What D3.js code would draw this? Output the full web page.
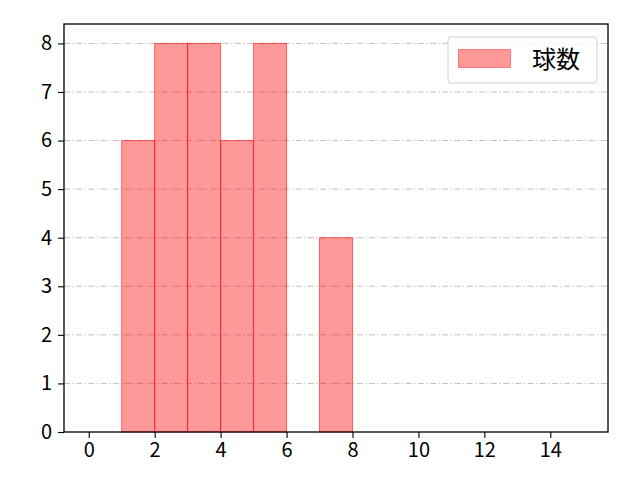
<!DOCTYPE html>
<html><head><meta charset="utf-8">
<script src="https://cdn.jsdelivr.net/npm/d3@7"></script>
<style>body{margin:0;background:#fff}svg{display:block}text{font-family:"Noto Sans CJK JP","DejaVu Sans",sans-serif}</style>
</head><body>
<svg id="c" width="640" height="480"></svg>
<script>
const binStarts = [1, 2, 3, 4, 5, 7];
const binEnds   = [2, 3, 4, 5, 6, 8];
const counts    = [6, 8, 8, 6, 8, 4];
const xTicks = [0, 2, 4, 6, 8, 10, 12, 14];
const yTicks = [0, 1, 2, 3, 4, 5, 6, 7, 8];
const legendLabel = "球数";

const svg = d3.select("#c");
const L = 64, R = 608, T = 24, B = 432;
const x = d3.scaleLinear().domain([-0.75, 15.75]).range([L, R]);
const y = d3.scaleLinear().domain([0, 8.4]).range([B, T]);

// grid
svg.append("g").selectAll("line").data(yTicks.slice(1)).join("line")
  .attr("x1", L).attr("x2", R).attr("y1", d => y(d)).attr("y2", d => y(d))
  .attr("stroke", "#b0b0b0").attr("stroke-width", 0.8).attr("stroke-dasharray", "6,2.5,1.2,2.5");

// bars
svg.append("g").selectAll("rect").data(counts).join("rect")
  .attr("x", (d, i) => x(binStarts[i])).attr("width", (d, i) => x(binEnds[i]) - x(binStarts[i]))
  .attr("y", d => y(d)).attr("height", d => B - y(d))
  .attr("fill", "#ff0000").attr("fill-opacity", 0.4)
  .attr("stroke", "#ff0000").attr("stroke-opacity", 0.55).attr("stroke-width", 1);

// axes
const xa = svg.append("g").attr("transform", `translate(0,${B})`)
  .call(d3.axisBottom(x).tickValues(xTicks).tickSize(6).tickPadding(5).tickFormat(d3.format("d")));
const ya = svg.append("g").attr("transform", `translate(${L},0)`)
  .call(d3.axisLeft(y).tickValues(yTicks).tickSize(6).tickPadding(6).tickFormat(d3.format("d")));
[xa, ya].forEach(a => {
  a.attr("font-size", null).attr("font-family", null);
  a.select(".domain").remove();
  a.selectAll(".tick line").attr("stroke", "#000").attr("stroke-width", 1.1);
  a.selectAll(".tick text").style("font-size", "20px").attr("fill", "#000");
});
svg.append("rect").attr("x", L).attr("y", T).attr("width", R - L).attr("height", B - T)
  .attr("fill", "none").attr("stroke", "#000").attr("stroke-width", 1.3);

// legend
svg.append("rect").attr("x", 448).attr("y", 37).attr("width", 149).attr("height", 46).attr("rx", 3)
  .attr("fill", "#fff").attr("fill-opacity", 0.8).attr("stroke", "#d0d0d0");
svg.append("rect").attr("x", 458.5).attr("y", 49.5).attr("width", 52).attr("height", 18)
  .attr("fill", "#ff0000").attr("fill-opacity", 0.4).attr("stroke", "#ff0000").attr("stroke-opacity", 0.4);
svg.append("text").attr("x", 532).attr("y", 68).style("font-size", "24px").attr("fill", "#000").text(legendLabel);
</script>
</body></html>
